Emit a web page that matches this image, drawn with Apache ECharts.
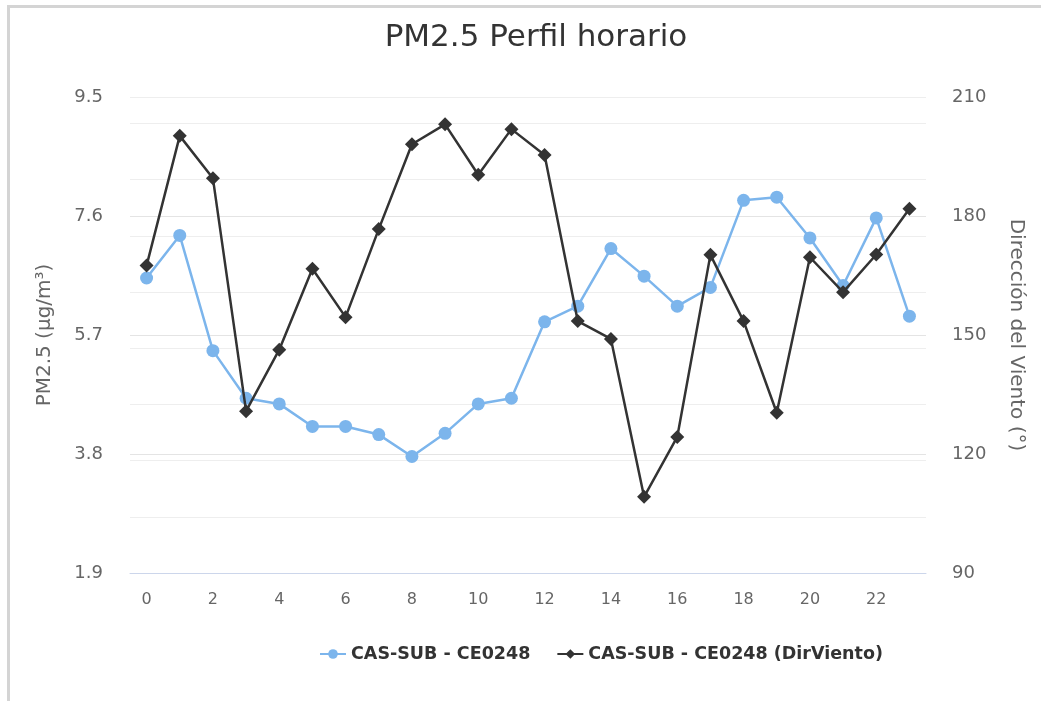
<!DOCTYPE html>
<html>
<head>
<meta charset="utf-8">
<script src="https://cdn.jsdelivr.net/npm/echarts@6/dist/echarts.min.js"></script>
<style>
html,body{margin:0;padding:0;background:#fff;}
#main{width:1041px;height:701px;}
</style>
</head>
<body>
<div id="main"></div>
<script>
var hours = ['0','1','2','3','4','5','6','7','8','9','10','11','12','13','14','15','16','17','18','19','20','21','22','23'];
var pm25 = [6.61, 7.29, 5.45, 4.69, 4.60, 4.24, 4.24, 4.11, 3.76, 4.13, 4.60, 4.69, 5.91, 6.16, 7.08, 6.64, 6.16, 6.46, 7.85, 7.90, 7.25, 6.49, 7.57, 6.00];
var dirViento = [167.5, 200.2, 189.5, 130.8, 146.3, 166.7, 154.5, 176.7, 198.1, 203.1, 190.4, 201.9, 195.4, 153.5, 149.0, 109.2, 124.3, 170.2, 153.5, 130.4, 169.6, 160.8, 170.3, 181.8];
var leftTicks = {min: 1.9, max: 9.5, interval: 1.9};
var rightTicks = {min: 90, max: 210, interval: 30};

var chart = echarts.init(document.getElementById('main'), null, {renderer: 'canvas'});
var font = 'DejaVu Sans';
chart.setOption({
  animation: false,
  backgroundColor: '#fff',
  title: {
    text: 'PM2.5 Perfil horario',
    left: 531, top: 17, textAlign: 'center',
    textStyle: {fontFamily: font, fontSize: 31, fontWeight: 'normal', color: '#333'}
  },
  graphic: [
    {type: 'rect', shape: {x: 8.5, y: 6.5, width: 1100, height: 750}, style: {fill: 'none', stroke: '#d4d4d4', lineWidth: 3}, silent: true, z: -1}
  ],
  legend: {
    bottom: 33, left: 314,
    itemWidth: 26, itemHeight: 12, itemGap: 26,
    textStyle: {fontFamily: font, fontSize: 17.5, fontWeight: 'bold', color: '#333'},
    data: ['CAS-SUB - CE0248', 'CAS-SUB - CE0248 (DirViento)']
  },
  grid: {left: 130, right: 115, top: 97, bottom: 128, containLabel: false},
  xAxis: {
    type: 'category', data: hours, boundaryGap: true,
    axisLine: {lineStyle: {color: '#ccd6eb', width: 1}},
    axisTick: {interval: 1, alignWithLabel: true, length: 10, lineStyle: {color: '#ccd6eb'}},
    axisLabel: {interval: 1, fontFamily: font, fontSize: 16, color: '#666', margin: 19},
    splitLine: {show: false}
  },
  yAxis: [
    {
      type: 'value', min: leftTicks.min, max: leftTicks.max, interval: leftTicks.interval,
      name: 'PM2.5 (µg/m³)', nameLocation: 'middle', nameGap: 75, nameRotate: 90,
      nameTextStyle: {fontFamily: font, fontSize: 20, color: '#666'},
      axisLine: {show: false}, axisTick: {show: false},
      axisLabel: {fontFamily: font, fontSize: 18, color: '#666', margin: 27, formatter: function(v){return v.toFixed(1);}},
      splitLine: {lineStyle: {color: '#e4e4e4', width: 1}}
    },
    {
      type: 'value', min: rightTicks.min, max: rightTicks.max, interval: rightTicks.interval, position: 'right',
      name: 'Dirección del Viento (°)', nameLocation: 'middle', nameGap: 80, nameRotate: -90,
      nameTextStyle: {fontFamily: font, fontSize: 20, color: '#666'},
      axisLine: {show: false}, axisTick: {show: false},
      axisLabel: {fontFamily: font, fontSize: 18, color: '#666', margin: 26},
      splitLine: {show: false}
    },
    {
      type: 'value', min: 0, max: 8.47, interval: 1, show: true, position: 'left',
      axisLine: {show: false}, axisTick: {show: false}, axisLabel: {show: false},
      splitLine: {lineStyle: {color: '#eeeeee', width: 1}}
    }
  ],
  series: [
    {
      name: 'CAS-SUB - CE0248', type: 'line', yAxisIndex: 0, data: pm25,
      symbol: 'circle', symbolSize: 13, showSymbol: true,
      itemStyle: {color: '#7cb5ec'}, lineStyle: {color: '#7cb5ec', width: 2.5}, z: 3
    },
    {
      name: 'CAS-SUB - CE0248 (DirViento)', type: 'line', yAxisIndex: 1, data: dirViento,
      symbol: 'diamond', symbolSize: 14, showSymbol: true,
      itemStyle: {color: '#333333'}, lineStyle: {color: '#333333', width: 2.5}, z: 4
    }
  ]
});
</script>
</body>
</html>
